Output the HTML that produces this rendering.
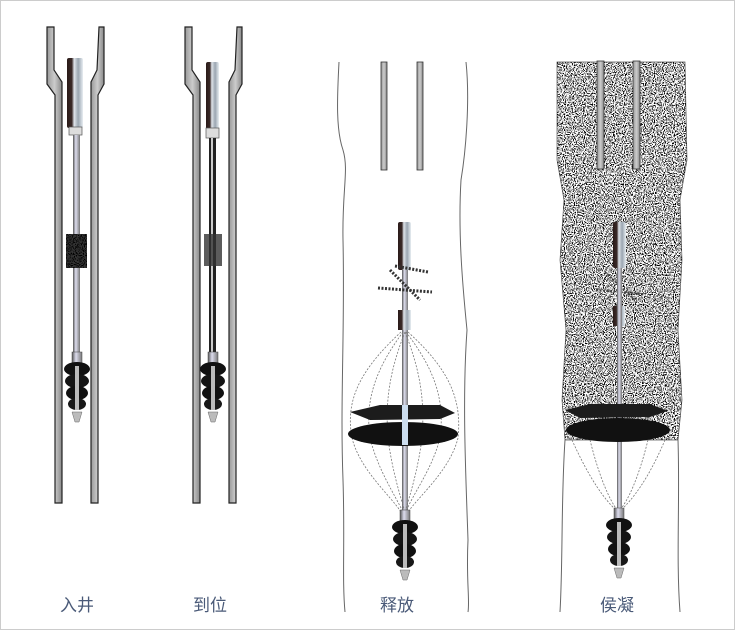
<!DOCTYPE html>
<html><head><meta charset="utf-8"><style>
html,body{margin:0;padding:0;background:#fff}
svg{display:block}
text{font-family:"Liberation Sans","Noto Sans CJK SC",sans-serif;font-size:17px;fill:#4a5a78}
</style></head><body>
<svg width="735" height="630" viewBox="0 0 735 630" xmlns="http://www.w3.org/2000/svg">
<defs>
<filter id="spk" x="0" y="0" width="100%" height="100%">
<feTurbulence type="fractalNoise" baseFrequency="0.9" numOctaves="1" seed="3"/>
<feColorMatrix type="matrix" values="0 0 0 0 0  0 0 0 0 0  0 0 0 0 0  -9 0 0 0 4.6"/>
</filter>
<clipPath id="cp4">
<path d="M557 62 L685 62 L687 160 L680 200 L682 260 L678 330 L682 400 L678 440 L565 440 L562 400 L566 330 L560 260 L564 200 L557 160 Z"/>
</clipPath>
<linearGradient id="metal" x1="0" x2="1">
<stop offset="0" stop-color="#2a1a18"/><stop offset="0.3" stop-color="#3a2a28"/><stop offset="0.45" stop-color="#dfe4ea"/><stop offset="0.7" stop-color="#9aa5b0"/><stop offset="1" stop-color="#e8eef2"/>
</linearGradient>
<linearGradient id="rod" x1="0" x2="1">
<stop offset="0" stop-color="#555"/><stop offset="0.4" stop-color="#dde"/><stop offset="1" stop-color="#777"/>
</linearGradient>
<linearGradient id="wall" x1="0" x2="1">
<stop offset="0" stop-color="#999"/><stop offset="0.5" stop-color="#ccc"/><stop offset="1" stop-color="#888"/>
</linearGradient>
<g id="bottom">
<rect x="-5" y="0" width="10" height="11" fill="url(#rod)" stroke="#444" stroke-width="0.5"/>
<ellipse cx="0" cy="17" rx="13" ry="7" fill="#111"/>
<ellipse cx="0" cy="29" rx="12" ry="7" fill="#151515"/>
<ellipse cx="0" cy="41" rx="11" ry="7" fill="#111"/>
<ellipse cx="0" cy="52" rx="9" ry="6" fill="#181818"/>
<rect x="-2" y="14" width="4" height="44" fill="#bbb"/>
<path d="M-5 60 L5 60 L2 70 L-2 70 Z" fill="#bbb" stroke="#666" stroke-width="0.5"/>
</g>
<g id="pipe">
<path d="M0 27 L7 27 L7 70 L15 82 L15 503 L8 503 L8 95 L0 84 Z" fill="url(#wall)" stroke="#222" stroke-width="1.2"/>
<path d="M57 27 L52 27 L50 70 L44 82 L44 503 L51 503 L51 95 L57 84 Z" fill="url(#wall)" stroke="#222" stroke-width="1.2"/>
</g>
</defs>
<rect x="0.5" y="0.5" width="734" height="629" fill="none" stroke="#ccc"/>

<!-- panel 1 -->
<use href="#pipe" x="47"/>
<rect x="67" y="58" width="16" height="70" rx="2" fill="url(#metal)"/>
<rect x="69" y="127" width="13" height="8" fill="#ddd" stroke="#555" stroke-width="0.7"/>
<rect x="73" y="135" width="7" height="218" fill="url(#rod)"/>
<rect x="66" y="234" width="21" height="34" fill="#333"/>
<rect x="66" y="234" width="21" height="34" fill="#000" filter="url(#spk)"/>
<use href="#bottom" x="77" y="352"/>

<!-- panel 2 -->
<use href="#pipe" x="185"/>
<rect x="206" y="62" width="13" height="68" rx="2" fill="url(#metal)"/>
<rect x="206" y="128" width="13" height="10" fill="#ddd" stroke="#555" stroke-width="0.7"/>
<rect x="209" y="138" width="7" height="215" fill="#222"/>
<rect x="211" y="138" width="2" height="215" fill="#ccc"/>
<rect x="204" y="234" width="18" height="32" fill="#333" opacity="0.8"/>
<use href="#bottom" x="213" y="352"/>

<!-- panel 3 -->
<path d="M339 62 C337 100 336 130 343 150 C349 170 342 190 343 240 C345 330 340 400 343 480 C345 540 342 580 345 612" fill="none" stroke="#666"/>
<path d="M466 62 C470 100 466 150 461 180 C458 230 462 280 467 330 C462 400 466 480 468 540 C466 580 470 600 468 612" fill="none" stroke="#666"/>
<rect x="381" y="62" width="6" height="108" fill="url(#wall)" stroke="#333" stroke-width="0.8"/>
<rect x="417" y="62" width="6" height="108" fill="url(#wall)" stroke="#333" stroke-width="0.8"/>
<rect x="398" y="222" width="13" height="48" rx="2" fill="url(#metal)"/>
<rect x="402" y="270" width="6" height="240" fill="url(#rod)"/>
<path d="M378 288 L432 292 M390 270 L420 300 M395 266 L428 272" stroke="#333" stroke-width="3" stroke-dasharray="2 1.5"/>
<rect x="398" y="310" width="13" height="20" fill="url(#metal)"/>
<g fill="none" stroke="#777" stroke-width="0.8" stroke-dasharray="2 1.5">
<path d="M401 332 C360 370 345 400 352 438 C360 470 390 495 401 512"/>
<path d="M403 332 C375 370 365 400 370 438 C378 470 395 495 403 512"/>
<path d="M405 332 C390 370 385 400 388 438 C392 470 400 495 405 512"/>
<path d="M408 332 C450 370 462 400 458 438 C450 470 420 495 408 512"/>
<path d="M406 332 C435 370 445 400 440 438 C432 470 412 495 406 512"/>
<path d="M405 332 C420 370 425 400 422 438 C418 470 410 495 405 512"/>
</g>
<path d="M350 412 L380 405 L440 405 L455 413 L440 419 L370 420 Z" fill="#1c1c1c"/>
<ellipse cx="403" cy="434" rx="55" ry="12" fill="#111"/>
<rect x="402" y="405" width="6" height="40" fill="#cde"/>
<use href="#bottom" x="405" y="510"/>

<!-- panel 4 -->
<path d="M557 62 L685 62 L687 160 L680 200 L682 260 L678 330 L682 400 L678 440 L565 440 L562 400 L566 330 L560 260 L564 200 L557 160 Z" fill="#fff" stroke="#555" stroke-width="0.7"/>
<g clip-path="url(#cp4)">
<rect x="550" y="55" width="145" height="395" fill="#000" filter="url(#spk)"/>
</g>
<path d="M565 440 C561 500 563 560 560 612 M678 440 C680 500 676 560 680 612" fill="none" stroke="#666"/>
<rect x="597" y="61" width="7" height="108" fill="url(#wall)" stroke="#333" stroke-width="0.8"/>
<rect x="633" y="61" width="7" height="108" fill="url(#wall)" stroke="#333" stroke-width="0.8"/>
<rect x="613" y="222" width="13" height="46" rx="2" fill="url(#metal)"/>
<path d="M596 290 L644 294 M605 272 L635 300" stroke="#444" stroke-width="2" stroke-dasharray="2 1.5"/>
<rect x="613" y="306" width="12" height="20" fill="url(#metal)"/>
<rect x="617" y="268" width="5" height="243" fill="url(#rod)"/>
<path d="M565 410 L590 404 L650 404 L668 411 L650 417 L580 418 Z" fill="#1c1c1c"/>
<ellipse cx="618" cy="430" rx="52" ry="12" fill="#111"/>
<g fill="none" stroke="#777" stroke-width="0.8" stroke-dasharray="2 1.5">
<path d="M572 440 C590 480 605 500 616 510"/><path d="M590 440 C600 480 610 500 617 510"/>
<path d="M665 440 C648 480 632 500 621 510"/><path d="M648 440 C638 480 628 500 620 510"/>
</g>
<use href="#bottom" x="619" y="508"/>

<text x="60" y="611">入井</text>
<text x="193" y="611">到位</text>
<text x="380" y="611">释放</text>
<text x="600" y="611">侯凝</text>
</svg>
</body></html>
